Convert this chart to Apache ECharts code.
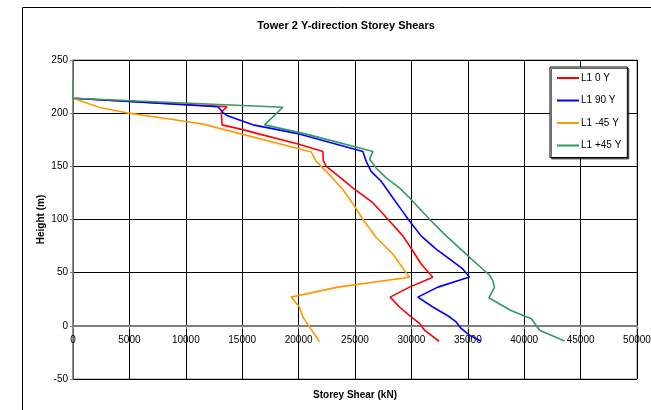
<!DOCTYPE html>
<html>
<head>
<meta charset="utf-8">
<script src="https://cdn.jsdelivr.net/npm/echarts@6/dist/echarts.min.js"></script>
<style>
html,body{margin:0;padding:0;background:#fff;}
#chart{width:651px;height:410px;}
</style>
</head>
<body>
<div id="chart"></div>
<script>
const seriesNames = ['L1 0 Y', 'L1 90 Y', 'L1 -45 Y', 'L1 +45 Y'];
const seriesColors = ['#ff0000', '#0000ff', '#ff9900', '#339966'];

// Storey shear (kN) / height (m)
const shear_L1_0Y = [0, 0, 13650, 13150, 13220, 15050, 16550, 19950, 22160, 22180, 22450, 23180, 24800, 26580, 28060, 29240, 30120, 30860, 31900, 29830, 28120, 28940, 29980, 30720, 31160, 32450];
const height_L1_0Y = [232, 214, 206, 201, 189, 184.5, 180.3, 171, 164, 155.5, 150, 143.8, 129.8, 115.8, 98.6, 84.6, 70.6, 58.2, 45.7, 36.4, 27, 17.7, 8.4, 2.2, -4.1, -14.5];

const shear_L1_90Y = [0, 0, 12850, 13300, 13700, 15950, 20050, 25700, 25990, 26430, 27320, 28350, 29090, 29830, 30860, 32190, 33370, 34550, 35150, 32340, 30570, 31900, 33300, 33966, 34408, 35146, 36180];
const height_L1_90Y = [232, 214, 206, 200.6, 197.5, 189, 180.5, 164, 154.7, 145.3, 136, 120.4, 109.5, 98.6, 84.6, 72.2, 62.9, 53.5, 45.9, 36.4, 27, 17.7, 9, 3.7, -2.5, -8.7, -14.5];

const shear_L1_m45Y = [0, 0, 2360, 4960, 10050, 11520, 21125, 21558, 22444, 23921, 24955, 25694, 26875, 28352, 29829, 23478, 19342, 20080, 20376, 20967, 21853];
const height_L1_m45Y = [232, 214, 205.3, 200, 192.2, 189.7, 163.4, 154.7, 145.3, 128.2, 112.7, 100.2, 83.1, 67.5, 45.7, 36.4, 27, 17.7, 8.4, -1, -15];

const shear_L1_p45Y = [0, 0, 18610, 16983, 20685, 26600, 26305, 26432, 26875, 27761, 28943, 29829, 31602, 33079, 34851, 36624, 36923, 37215, 37367, 36864, 38782, 40068, 40622, 41362, 43581];
const height_L1_p45Y = [232, 214, 205.6, 189, 180.3, 164, 157, 154.7, 148.4, 139.1, 129.8, 120.4, 100.2, 84.6, 67.5, 50.4, 47.8, 42.6, 36.2, 26.4, 14.7, 9, 6.9, -4.1, -14.2];

const shearSets = [shear_L1_0Y, shear_L1_90Y, shear_L1_m45Y, shear_L1_p45Y];
const heightSets = [height_L1_0Y, height_L1_90Y, height_L1_m45Y, height_L1_p45Y];

const FONT = '"Liberation Sans", Arial, sans-serif';
const chart = echarts.init(document.getElementById('chart'), null, {renderer: 'canvas'});

const GRID_TOP = 60, GRID_BOTTOM = 31, Y_MIN = -50, Y_MAX = 250;
const plotH = 410 - GRID_TOP - GRID_BOTTOM;
// move the x axis up to the zero line
const xAxisOffset = -plotH * (0 - Y_MIN) / (Y_MAX - Y_MIN);

const series = seriesNames.map((name, i) => ({
  name: name,
  type: 'line',
  data: shearSets[i].map((x, k) => [x, heightSets[i][k]]),
  showSymbol: false,
  symbol: 'none',
  smooth: false,
  lineStyle: {color: seriesColors[i], width: 1.6},
  itemStyle: {color: seriesColors[i]},
  animation: false,
  z: 3 + i
}));

chart.setOption({
  backgroundColor: '#fff',
  animation: false,
  title: {
    text: 'Tower 2 Y-direction Storey Shears',
    left: 341, top: 15, textAlign: 'center',
    textStyle: {fontFamily: FONT, fontSize: 11, fontWeight: 'bold', color: '#000'}
  },
  graphic: [{
    type: 'rect', silent: true, z: -1,
    shape: {x: 22.5, y: 7.5, width: 700, height: 500},
    style: {fill: 'none', stroke: '#000', lineWidth: 1}
  }],
  legend: {
    orient: 'vertical',
    left: 550, top: 67,
    padding: [5, 6, 6, 7],
    itemGap: 10.5,
    itemWidth: 22,
    itemHeight: 2,
    icon: 'rect',
    backgroundColor: '#fff',
    borderColor: '#000',
    borderWidth: 1,
    borderRadius: 0,
    shadowColor: 'rgba(0,0,0,0.6)',
    shadowOffsetX: 1.5, shadowOffsetY: 1.5, shadowBlur: 0,
    textStyle: {fontFamily: FONT, fontSize: 10, color: '#000', lineHeight: 12, padding: [0, 0, 0, -3]},
    data: seriesNames
  },
  grid: {
    left: 73, right: 14, top: GRID_TOP, bottom: GRID_BOTTOM,
    show: true, borderColor: '#808080', borderWidth: 1,
    containLabel: false,
    outerBoundsMode: 'none'
  },
  xAxis: {
    type: 'value', min: 0, max: 50000, interval: 5000,
    position: 'bottom', offset: xAxisOffset,
    name: 'Storey Shear (kN)', nameLocation: 'middle', nameGap: 64, nameMoveOverlap: false,
    nameTextStyle: {fontFamily: FONT, fontSize: 10, fontWeight: 'bold', color: '#000'},
    axisLine: {show: true, onZero: false, lineStyle: {color: '#808080', width: 2}},
    axisTick: {show: true, length: 3, inside: false, lineStyle: {color: '#808080'}},
    axisLabel: {fontFamily: FONT, fontSize: 10, color: '#000', margin: 9, formatter: v => String(v)},
    splitLine: {show: true, lineStyle: {color: '#000', width: 1}}
  },
  yAxis: {
    type: 'value', min: Y_MIN, max: Y_MAX, interval: 50,
    name: 'Height (m)', nameLocation: 'middle', nameGap: 27, nameRotate: 90, nameMoveOverlap: false,
    nameTextStyle: {fontFamily: FONT, fontSize: 10, fontWeight: 'bold', color: '#000'},
    axisLine: {show: true, onZero: false, lineStyle: {color: '#808080', width: 1.5}},
    axisTick: {show: true, length: 3, lineStyle: {color: '#808080'}},
    axisLabel: {fontFamily: FONT, fontSize: 10, color: '#000', margin: 5, formatter: v => String(v)},
    splitLine: {show: true, lineStyle: {color: '#000', width: 1}}
  },
  series: series
});
</script>
</body>
</html>
